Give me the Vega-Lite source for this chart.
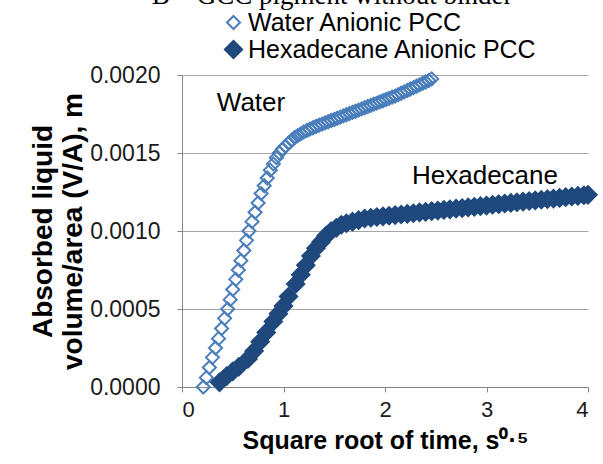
{
  "$schema": "https://vega.github.io/schema/vega-lite/v6.json",
  "width": 406,
  "height": 312,
  "autosize": {"type": "none"},
  "padding": {"left": 182, "top": 75, "right": 15, "bottom": 77},
  "background": "white",
  "title": {
    "text": "B – GCC pigment without binder",
    "font": "Liberation Serif",
    "fontSize": 27,
    "fontWeight": "normal",
    "color": "#000000",
    "anchor": "middle",
    "frame": "group",
    "baseline": "alphabetic",
    "offset": -3,
    "dx": -53,
    "dy": 18
  },
  "config": {
    "font": "Liberation Sans",
    "view": {"stroke": null},
    "axis": {
      "labelFont": "Liberation Sans",
      "titleFont": "Liberation Sans",
      "labelColor": "#1a1a1a",
      "titleColor": "#000000",
      "domainColor": "#868686",
      "tickColor": "#868686",
      "gridColor": "#a6a6a6",
      "tickSize": 5
    }
  },
  "datasets": {
    "series": [
      {"s": "Water  Anionic PCC", "x": 0.21, "y": 0.0},
      {"s": "Water  Anionic PCC", "x": 0.24, "y": 0.00006},
      {"s": "Water  Anionic PCC", "x": 0.27, "y": 0.000125},
      {"s": "Water  Anionic PCC", "x": 0.30, "y": 0.00019},
      {"s": "Water  Anionic PCC", "x": 0.33, "y": 0.00025},
      {"s": "Water  Anionic PCC", "x": 0.36, "y": 0.00031},
      {"s": "Water  Anionic PCC", "x": 0.39, "y": 0.000375},
      {"s": "Water  Anionic PCC", "x": 0.42, "y": 0.00044},
      {"s": "Water  Anionic PCC", "x": 0.45, "y": 0.0005},
      {"s": "Water  Anionic PCC", "x": 0.475, "y": 0.00056},
      {"s": "Water  Anionic PCC", "x": 0.50, "y": 0.000625},
      {"s": "Water  Anionic PCC", "x": 0.53, "y": 0.00069},
      {"s": "Water  Anionic PCC", "x": 0.555, "y": 0.00075},
      {"s": "Water  Anionic PCC", "x": 0.58, "y": 0.00081},
      {"s": "Water  Anionic PCC", "x": 0.61, "y": 0.000875},
      {"s": "Water  Anionic PCC", "x": 0.635, "y": 0.00094},
      {"s": "Water  Anionic PCC", "x": 0.66, "y": 0.0010},
      {"s": "Water  Anionic PCC", "x": 0.69, "y": 0.00106},
      {"s": "Water  Anionic PCC", "x": 0.72, "y": 0.00112},
      {"s": "Water  Anionic PCC", "x": 0.75, "y": 0.00118},
      {"s": "Water  Anionic PCC", "x": 0.78, "y": 0.00124},
      {"s": "Water  Anionic PCC", "x": 0.81, "y": 0.00129},
      {"s": "Water  Anionic PCC", "x": 0.84, "y": 0.00134},
      {"s": "Water  Anionic PCC", "x": 0.87, "y": 0.00139},
      {"s": "Water  Anionic PCC", "x": 0.90, "y": 0.00143},
      {"s": "Water  Anionic PCC", "x": 0.93, "y": 0.00147},
      {"s": "Water  Anionic PCC", "x": 0.96, "y": 0.00150},
      {"s": "Water  Anionic PCC", "x": 0.99, "y": 0.001525},
      {"s": "Water  Anionic PCC", "x": 1.02, "y": 0.001543},
      {"s": "Water  Anionic PCC", "x": 1.05, "y": 0.001563},
      {"s": "Water  Anionic PCC", "x": 1.08, "y": 0.001582},
      {"s": "Water  Anionic PCC", "x": 1.11, "y": 0.001599},
      {"s": "Water  Anionic PCC", "x": 1.14, "y": 0.001611},
      {"s": "Water  Anionic PCC", "x": 1.17, "y": 0.001623},
      {"s": "Water  Anionic PCC", "x": 1.20, "y": 0.001635},
      {"s": "Water  Anionic PCC", "x": 1.23, "y": 0.001644},
      {"s": "Water  Anionic PCC", "x": 1.26, "y": 0.001653},
      {"s": "Water  Anionic PCC", "x": 1.29, "y": 0.001662},
      {"s": "Water  Anionic PCC", "x": 1.32, "y": 0.001670},
      {"s": "Water  Anionic PCC", "x": 1.35, "y": 0.001678},
      {"s": "Water  Anionic PCC", "x": 1.38, "y": 0.001685},
      {"s": "Water  Anionic PCC", "x": 1.41, "y": 0.001693},
      {"s": "Water  Anionic PCC", "x": 1.44, "y": 0.001700},
      {"s": "Water  Anionic PCC", "x": 1.47, "y": 0.001708},
      {"s": "Water  Anionic PCC", "x": 1.50, "y": 0.001715},
      {"s": "Water  Anionic PCC", "x": 1.53, "y": 0.001723},
      {"s": "Water  Anionic PCC", "x": 1.56, "y": 0.001730},
      {"s": "Water  Anionic PCC", "x": 1.59, "y": 0.001738},
      {"s": "Water  Anionic PCC", "x": 1.62, "y": 0.001745},
      {"s": "Water  Anionic PCC", "x": 1.65, "y": 0.001753},
      {"s": "Water  Anionic PCC", "x": 1.68, "y": 0.001760},
      {"s": "Water  Anionic PCC", "x": 1.71, "y": 0.001768},
      {"s": "Water  Anionic PCC", "x": 1.74, "y": 0.001775},
      {"s": "Water  Anionic PCC", "x": 1.77, "y": 0.001783},
      {"s": "Water  Anionic PCC", "x": 1.80, "y": 0.001790},
      {"s": "Water  Anionic PCC", "x": 1.83, "y": 0.001798},
      {"s": "Water  Anionic PCC", "x": 1.86, "y": 0.001805},
      {"s": "Water  Anionic PCC", "x": 1.89, "y": 0.001813},
      {"s": "Water  Anionic PCC", "x": 1.92, "y": 0.001820},
      {"s": "Water  Anionic PCC", "x": 1.95, "y": 0.001828},
      {"s": "Water  Anionic PCC", "x": 1.98, "y": 0.001835},
      {"s": "Water  Anionic PCC", "x": 2.01, "y": 0.001843},
      {"s": "Water  Anionic PCC", "x": 2.04, "y": 0.001850},
      {"s": "Water  Anionic PCC", "x": 2.07, "y": 0.001858},
      {"s": "Water  Anionic PCC", "x": 2.10, "y": 0.001865},
      {"s": "Water  Anionic PCC", "x": 2.13, "y": 0.001874},
      {"s": "Water  Anionic PCC", "x": 2.16, "y": 0.001883},
      {"s": "Water  Anionic PCC", "x": 2.19, "y": 0.001892},
      {"s": "Water  Anionic PCC", "x": 2.22, "y": 0.001901},
      {"s": "Water  Anionic PCC", "x": 2.25, "y": 0.001910},
      {"s": "Water  Anionic PCC", "x": 2.28, "y": 0.001919},
      {"s": "Water  Anionic PCC", "x": 2.31, "y": 0.001928},
      {"s": "Water  Anionic PCC", "x": 2.34, "y": 0.001937},
      {"s": "Water  Anionic PCC", "x": 2.37, "y": 0.001946},
      {"s": "Water  Anionic PCC", "x": 2.40, "y": 0.001955},
      {"s": "Water  Anionic PCC", "x": 2.43, "y": 0.001965},
      {"s": "Water  Anionic PCC", "x": 2.46, "y": 0.001975},
      {"s": "Hexadecane Anionic PCC", "x": 0.37, "y": 0.00003},
      {"s": "Hexadecane Anionic PCC", "x": 0.44, "y": 0.00007},
      {"s": "Hexadecane Anionic PCC", "x": 0.50, "y": 0.00010},
      {"s": "Hexadecane Anionic PCC", "x": 0.56, "y": 0.00013},
      {"s": "Hexadecane Anionic PCC", "x": 0.65, "y": 0.00018},
      {"s": "Hexadecane Anionic PCC", "x": 0.71, "y": 0.00023},
      {"s": "Hexadecane Anionic PCC", "x": 0.77, "y": 0.00029},
      {"s": "Hexadecane Anionic PCC", "x": 0.83, "y": 0.00035},
      {"s": "Hexadecane Anionic PCC", "x": 0.90, "y": 0.00042},
      {"s": "Hexadecane Anionic PCC", "x": 0.95, "y": 0.00047},
      {"s": "Hexadecane Anionic PCC", "x": 1.00, "y": 0.00052},
      {"s": "Hexadecane Anionic PCC", "x": 1.05, "y": 0.00058},
      {"s": "Hexadecane Anionic PCC", "x": 1.12, "y": 0.00066},
      {"s": "Hexadecane Anionic PCC", "x": 1.17, "y": 0.00072},
      {"s": "Hexadecane Anionic PCC", "x": 1.22, "y": 0.00078},
      {"s": "Hexadecane Anionic PCC", "x": 1.27, "y": 0.00084},
      {"s": "Hexadecane Anionic PCC", "x": 1.32, "y": 0.00089},
      {"s": "Hexadecane Anionic PCC", "x": 1.37, "y": 0.00093},
      {"s": "Hexadecane Anionic PCC", "x": 1.42, "y": 0.00097},
      {"s": "Hexadecane Anionic PCC", "x": 1.47, "y": 0.00100},
      {"s": "Hexadecane Anionic PCC", "x": 1.52, "y": 0.00102},
      {"s": "Hexadecane Anionic PCC", "x": 1.57, "y": 0.00104},
      {"s": "Hexadecane Anionic PCC", "x": 1.62, "y": 0.00105},
      {"s": "Hexadecane Anionic PCC", "x": 1.68, "y": 0.00106},
      {"s": "Hexadecane Anionic PCC", "x": 1.74, "y": 0.00107},
      {"s": "Hexadecane Anionic PCC", "x": 1.80, "y": 0.00108},
      {"s": "Hexadecane Anionic PCC", "x": 1.86, "y": 0.001085},
      {"s": "Hexadecane Anionic PCC", "x": 1.92, "y": 0.001090},
      {"s": "Hexadecane Anionic PCC", "x": 1.98, "y": 0.001094},
      {"s": "Hexadecane Anionic PCC", "x": 2.04, "y": 0.001098},
      {"s": "Hexadecane Anionic PCC", "x": 2.10, "y": 0.001102},
      {"s": "Hexadecane Anionic PCC", "x": 2.16, "y": 0.001106},
      {"s": "Hexadecane Anionic PCC", "x": 2.22, "y": 0.001110},
      {"s": "Hexadecane Anionic PCC", "x": 2.28, "y": 0.001114},
      {"s": "Hexadecane Anionic PCC", "x": 2.34, "y": 0.001119},
      {"s": "Hexadecane Anionic PCC", "x": 2.40, "y": 0.001123},
      {"s": "Hexadecane Anionic PCC", "x": 2.46, "y": 0.001127},
      {"s": "Hexadecane Anionic PCC", "x": 2.52, "y": 0.001131},
      {"s": "Hexadecane Anionic PCC", "x": 2.58, "y": 0.001135},
      {"s": "Hexadecane Anionic PCC", "x": 2.64, "y": 0.001139},
      {"s": "Hexadecane Anionic PCC", "x": 2.70, "y": 0.001143},
      {"s": "Hexadecane Anionic PCC", "x": 2.76, "y": 0.001147},
      {"s": "Hexadecane Anionic PCC", "x": 2.82, "y": 0.001151},
      {"s": "Hexadecane Anionic PCC", "x": 2.88, "y": 0.001155},
      {"s": "Hexadecane Anionic PCC", "x": 2.94, "y": 0.001159},
      {"s": "Hexadecane Anionic PCC", "x": 3.00, "y": 0.001163},
      {"s": "Hexadecane Anionic PCC", "x": 3.06, "y": 0.001168},
      {"s": "Hexadecane Anionic PCC", "x": 3.12, "y": 0.001172},
      {"s": "Hexadecane Anionic PCC", "x": 3.18, "y": 0.001176},
      {"s": "Hexadecane Anionic PCC", "x": 3.24, "y": 0.001180},
      {"s": "Hexadecane Anionic PCC", "x": 3.30, "y": 0.001184},
      {"s": "Hexadecane Anionic PCC", "x": 3.36, "y": 0.001188},
      {"s": "Hexadecane Anionic PCC", "x": 3.42, "y": 0.001192},
      {"s": "Hexadecane Anionic PCC", "x": 3.48, "y": 0.001196},
      {"s": "Hexadecane Anionic PCC", "x": 3.54, "y": 0.001200},
      {"s": "Hexadecane Anionic PCC", "x": 3.60, "y": 0.001204},
      {"s": "Hexadecane Anionic PCC", "x": 3.66, "y": 0.001208},
      {"s": "Hexadecane Anionic PCC", "x": 3.72, "y": 0.001212},
      {"s": "Hexadecane Anionic PCC", "x": 3.78, "y": 0.001217},
      {"s": "Hexadecane Anionic PCC", "x": 3.84, "y": 0.001221},
      {"s": "Hexadecane Anionic PCC", "x": 3.90, "y": 0.001225},
      {"s": "Hexadecane Anionic PCC", "x": 3.96, "y": 0.001229},
      {"s": "Hexadecane Anionic PCC", "x": 4.00, "y": 0.001232}
    ],
    "labels": [
      {"label": "Water", "x": 0.68, "y": 0.00182},
      {"label": "Hexadecane", "x": 2.985, "y": 0.00135}
    ]
  },
  "layer": [
    {
      "data": {"name": "series"},
      "mark": {"type": "point", "shape": "diamond", "filled": false, "strokeWidth": 2, "opacity": 1, "clip": false},
      "encoding": {
        "x": {
          "field": "x", "type": "quantitative",
          "scale": {"domain": [0, 4], "nice": false, "zero": true},
          "axis": {
            "values": [0, 1, 2, 3, 4], "format": "d", "grid": false,
            "labelFontSize": 22, "labelPadding": 7,
            "title": "Square root of time, s⁰·⁵", "titleFontSize": 25, "titleFontWeight": "bold",
            "titlePadding": 8
          }
        },
        "y": {
          "field": "y", "type": "quantitative",
          "scale": {"domain": [0, 0.002], "nice": false},
          "axis": {
            "values": [0, 0.0005, 0.001, 0.0015, 0.002], "format": ".4f", "grid": true,
            "labelFontSize": 23, "labelPadding": 17,
            "title": ["Absorbed liquid", "volume/area (V/A), m"], "titleFontSize": 28, "titleFontWeight": "bold",
            "titleLineHeight": 30, "titlePadding": 2
          }
        },
        "color": {
          "field": "s", "type": "nominal",
          "scale": {"domain": ["Water  Anionic PCC", "Hexadecane Anionic PCC"], "range": ["#4a7ebb", "#1f497d"]},
          "legend": {
            "orient": "none", "legendX": 39, "legendY": -65, "title": null,
            "labelFontSize": 25, "labelFont": "Liberation Sans", "labelColor": "#000000", "labelLimit": 500,
            "symbolType": "diamond", "symbolSize": 110, "symbolStrokeWidth": 2,
            "labelOffset": 2, "rowPadding": 0, "padding": 0
          }
        },
        "fill": {
          "field": "s", "type": "nominal",
          "scale": {"domain": ["Water  Anionic PCC", "Hexadecane Anionic PCC"], "range": ["transparent", "#1f497d"]},
          "legend": {
            "orient": "none", "legendX": 39, "legendY": -65, "title": null,
            "labelFontSize": 25, "labelFont": "Liberation Sans", "labelColor": "#000000", "labelLimit": 500,
            "symbolType": "diamond", "symbolSize": 110, "symbolStrokeWidth": 2,
            "labelOffset": 2, "rowPadding": 0, "padding": 0
          }
        },
        "size": {
          "field": "s", "type": "nominal",
          "scale": {"domain": ["Water  Anionic PCC", "Hexadecane Anionic PCC"], "range": [170, 300]},
          "legend": null
        }
      }
    },
    {
      "data": {"name": "labels"},
      "mark": {"type": "text", "fontSize": 26, "font": "Liberation Sans", "color": "#000000", "align": "center", "baseline": "middle"},
      "encoding": {
        "x": {"field": "x", "type": "quantitative"},
        "y": {"field": "y", "type": "quantitative"},
        "text": {"field": "label"}
      }
    }
  ]
}
